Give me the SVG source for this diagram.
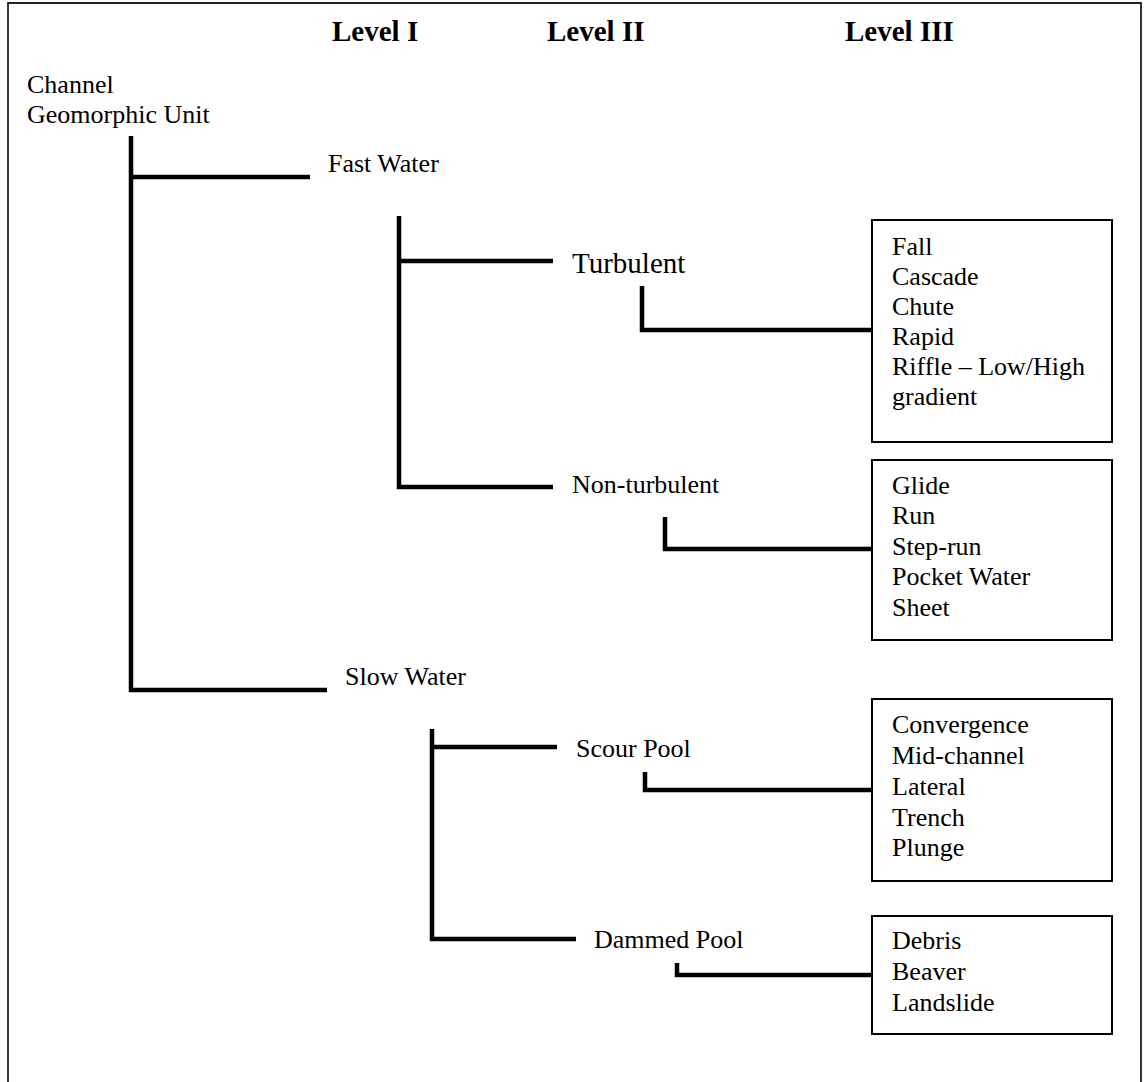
<svg xmlns="http://www.w3.org/2000/svg" width="1144" height="1082" viewBox="0 0 1144 1082">
<style>
text{font-family:"Liberation Serif","Times New Roman",serif;font-size:26px;fill:#000}
.h{font-weight:bold;font-size:29px}
.big{font-size:29px}
.c{fill:none;stroke:#000;stroke-width:4.5;stroke-linecap:butt;stroke-linejoin:miter}
.box{fill:#fff;stroke:#000;stroke-width:2}
.frame{fill:none;stroke:#222;stroke-width:1.8}
</style>
<rect x="0" y="0" width="1144" height="1082" fill="#fff"/>
<path class="frame" d="M8,1090 V3 H1141 V1090"/>
<g id="headers">
<text class="h" x="332" y="41">Level I</text>
<text class="h" x="547" y="41">Level II</text>
<text class="h" x="845" y="41">Level III</text>
</g>
<g id="connectors">
<path class="c" d="M131,136 V690 H327"/>
<path class="c" d="M131,177 H310"/>
<path class="c" d="M399,216 V487 H553"/>
<path class="c" d="M399,261 H553"/>
<path class="c" d="M642,286 V330 H872"/>
<path class="c" d="M665,517 V549 H872"/>
<path class="c" d="M432,729 V939 H576"/>
<path class="c" d="M432,747 H557"/>
<path class="c" d="M645,772 V790 H872"/>
<path class="c" d="M677,963 V975 H872"/>
</g>
<g id="root"><text x="27" y="93">Channel</text><text x="27" y="123">Geomorphic Unit</text></g>
<g id="fast-water"><text x="328" y="172">Fast Water</text></g>
<g id="slow-water"><text x="345" y="685">Slow Water</text></g>
<g id="turbulent"><text class="big" x="572" y="273">Turbulent</text></g>
<g id="non-turbulent"><text x="572" y="493">Non-turbulent</text></g>
<g id="scour-pool"><text x="576" y="757">Scour Pool</text></g>
<g id="dammed-pool"><text x="594" y="948">Dammed Pool</text></g>
<g id="box-turbulent">
<rect class="box" x="872" y="220" width="240" height="222"/>
<text x="892" y="255">Fall</text>
<text x="892" y="285">Cascade</text>
<text x="892" y="315">Chute</text>
<text x="892" y="345">Rapid</text>
<text x="892" y="375">Riffle – Low/High</text>
<text x="892" y="405">gradient</text>
</g>
<g id="box-non-turbulent">
<rect class="box" x="872" y="460" width="240" height="180"/>
<text x="892" y="494">Glide</text>
<text x="892" y="524">Run</text>
<text x="892" y="555">Step-run</text>
<text x="892" y="585">Pocket Water</text>
<text x="892" y="616">Sheet</text>
</g>
<g id="box-scour">
<rect class="box" x="872" y="699" width="240" height="182"/>
<text x="892" y="733">Convergence</text>
<text x="892" y="764">Mid-channel</text>
<text x="892" y="795">Lateral</text>
<text x="892" y="826">Trench</text>
<text x="892" y="856">Plunge</text>
</g>
<g id="box-dammed">
<rect class="box" x="872" y="916" width="240" height="118"/>
<text x="892" y="949">Debris</text>
<text x="892" y="980">Beaver</text>
<text x="892" y="1011">Landslide</text>
</g>
</svg>
